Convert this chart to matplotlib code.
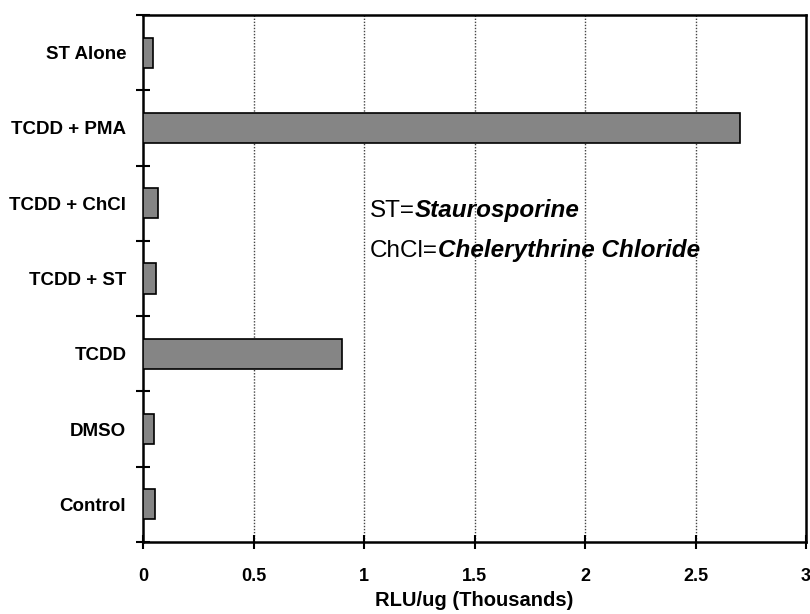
import matplotlib.pyplot as plt
import numpy as np

plt.rcParams['font.family'] = ['Liberation Sans', 'DejaVu Sans']

# categories bottom to top
categories = ['Control', 'DMSO', 'TCDD', 'TCDD + ST', 'TCDD + ChCl', 'TCDD + PMA', 'ST Alone']
rlu_values = [0.053, 0.05, 0.90, 0.057, 0.066, 2.70, 0.044]
x_ticks = [0, 0.5, 1, 1.5, 2, 2.5, 3]
x_tick_labels = ['0', '0.5', '1', '1.5', '2', '2.5', '3']

fig = plt.figure(figsize=(8.1, 6.14), dpi=100)
ax = fig.add_axes([143 / 810, 1 - 542 / 614, (806 - 143) / 810, (542 - 15) / 614])

pos = np.arange(len(categories))
ax.barh(pos, rlu_values, height=0.4, color='#858585', edgecolor='black', linewidth=1.2, zorder=3)

ax.set_xlim(0, 3)
ax.set_ylim(-0.5, len(categories) - 0.5)

ax.set_xticks(x_ticks)
ax.set_xticklabels(x_tick_labels, fontweight='bold', fontsize=13)
ax.tick_params(axis='x', direction='inout', length=10, width=1.5, pad=14)

# y ticks sit between categories, labels at the centres
ax.set_yticks(np.arange(-0.5, len(categories), 1))
ax.set_yticklabels([])
ax.set_yticks(pos, minor=True)
ax.set_yticklabels(categories, minor=True, fontweight='bold', fontsize=13.5)
ax.tick_params(axis='y', which='major', direction='inout', length=10, width=1.5)
ax.tick_params(axis='y', which='minor', length=0, pad=12)

for s in ax.spines.values():
    s.set_linewidth(1.8)

for x in x_ticks[1:-1]:
    ax.axvline(x, color='#444444', linestyle=(0, (1, 1.2)), linewidth=1.0, zorder=1)

ax.set_xlabel('RLU/ug (Thousands)', fontweight='bold', fontsize=14.5, labelpad=4)

# legend-like note: plain prefix, bold italic name
tx, ty1, ty2 = 370 / 810, 1 - 211 / 614, 1 - 251 / 614
a = fig.text(tx, ty1, 'ST=', fontsize=17.5, va='center')
b = fig.text(tx, ty2, 'ChCl=', fontsize=17.5, va='center')
fig.canvas.draw()
r = fig.canvas.get_renderer()
fig.text(a.get_window_extent(r).x1 / 810, ty1, 'Staurosporine', fontsize=17.5, va='center',
         fontweight='bold', fontstyle='italic')
fig.text(b.get_window_extent(r).x1 / 810, ty2, 'Chelerythrine Chloride', fontsize=17.5, va='center',
         fontweight='bold', fontstyle='italic')

fig.savefig('out.png', dpi=100)
